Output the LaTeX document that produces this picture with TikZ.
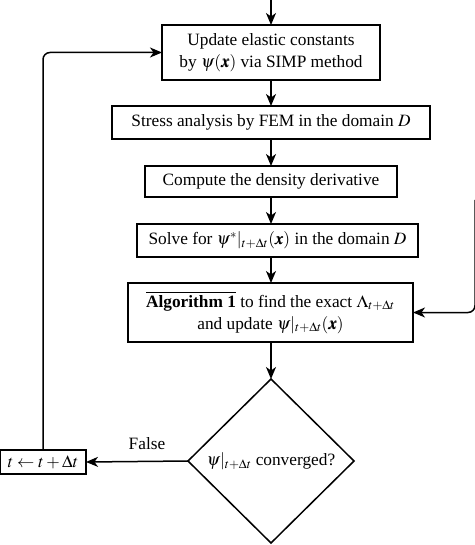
\documentclass[tikz,border=0pt]{standalone}
\usepackage{amsmath}
\usepackage{mathptmx}
\usepackage[no-math]{fontspec}
\setmainfont{Liberation Serif}
\usepackage{bm}
\usetikzlibrary{shapes.geometric,arrows.meta}
\begin{document}
\begin{tikzpicture}[x=1pt,y=-1pt,
  font=\fontsize{17.3}{22}\selectfont,
  every node/.style={inner sep=0pt, outer sep=0pt},
  box/.style={draw, line width=1.5pt, align=center},
  dec/.style={draw, line width=1.5pt, shape=diamond, minimum width=166pt, minimum height=164pt, align=center},
  conn/.style={line width=1.5pt, -{Stealth[length=12pt,width=10pt,inset=3.5pt]}},
  lbl/.style={font=\fontsize{17.3}{22}\selectfont}]
\useasboundingbox (0,0) rectangle (474,545);
\coordinate (top) at (271,-2);
\node[box, minimum width=218pt, minimum height=55pt] (b1) at (271,52.5) {Update elastic constants\\by $\psi(\bm{x})$ via SIMP method};
\node[box, minimum width=318pt, minimum height=33pt] (b2) at (271,122.5) {Stress analysis by FEM in the domain $D$};
\node[box, minimum width=252pt, minimum height=31pt] (b3) at (271,181.5) {Compute the density derivative};
\node[box, minimum width=281pt, minimum height=33pt] (b4) at (277.5,240.5) {Solve for $\psi^{*}|_{t+\Delta t}(\bm{x})$ in the domain $D$};
\node[box, minimum width=285pt, minimum height=59pt] (b5) at (270.5,312.5) {$\overline{\text{\textbf{Algorithm 1}}}$ to find the exact $\Lambda_{t+\Delta t}$\\and update $\psi|_{t+\Delta t}(\bm{x})$};
\node[dec] (d) at (271,461) {$\psi|_{t+\Delta t}$ converged?};
\node[box, minimum width=86pt, minimum height=24pt] (t) at (43,462) {$t\leftarrow t+\Delta t$};
\coordinate (r) at (475,200);
\node[lbl] (f) at (147,444) {False};
\draw[conn] (top) -- (b1);
\draw[conn] (b1) -- (b2);
\draw[conn] (b2) -- (b3);
\draw[conn] (b3) -- (b3.south |- b4.north);
\draw[conn] (b4.south -| b3.south) -- (b5.north -| b3.south);
\draw[conn] (b5.south -| d.north) -- (d.north);
\draw[conn] (d.west) -- (t.east);
\draw[conn, rounded corners=7pt] (t.north) -- (t.north |- b1.west) -- (b1.west);
\draw[conn, rounded corners=7pt] (r) -- (r |- b5.east) -- (b5.east);
\end{tikzpicture}
\end{document}
